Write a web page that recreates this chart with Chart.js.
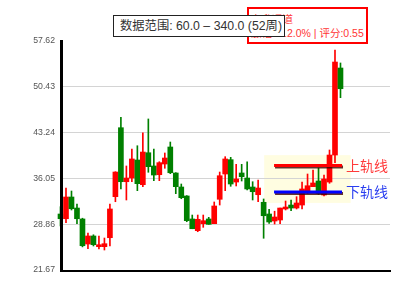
<!DOCTYPE html>
<html>
<head>
<meta charset="utf-8">
<script src="https://cdn.jsdelivr.net/npm/chart.js@4.4.1/dist/chart.umd.min.js"></script>
<style>
body { margin: 0; background: #fff; }
#wrap { position: relative; width: 400px; height: 300px; }
#scoreBox {
    position: absolute; left: 247px; top: 7px; width: 121px; height: 37px;
    box-sizing: border-box; border: 2px solid #f00; background: #fff;
    color: #ff3535; font: 10.5px "Liberation Sans", "Noto Sans CJK SC", sans-serif;
    line-height: 14px; padding: 3px 0 0 2px; white-space: nowrap;
}
#rangeBox {
    position: absolute; left: 113px; top: 15px; width: 172px; height: 22px;
    box-sizing: border-box; border: 1px solid #222; background: #fff;
    color: #333; font: 12.3px "Liberation Sans", "Noto Sans CJK SC", sans-serif;
    line-height: 20px; padding-left: 6px; white-space: nowrap;
}
</style>
</head>
<body>
<div id="wrap">
    <canvas id="myChart" width="400" height="300"></canvas>
    <div id="scoreBox">上升通道<br>涨幅:+12.0% | 评分:0.55</div>
    <div id="rangeBox">数据范围: 60.0 – 340.0 (52周)</div>
</div>
<script>
// weekly candles
const opens  = [30.46, 29.72, 33.13, 31.40, 29.68, 25.75, 27.01, 25.33, 25.33, 26.74,
                33.18, 44.01, 35.53, 36.11, 38.94, 35.06, 40.08, 38.00, 36.63, 38.31,
                40.98, 36.90, 34.70, 33.29, 29.68, 27.84, 28.94, 29.68, 28.94, 32.77,
                36.74, 38.99, 35.48, 36.90, 36.11, 34.70, 33.49, 32.30, 30.46, 29.36,
                29.52, 31.25, 31.87, 31.40, 31.87, 33.81, 34.75, 35.64, 33.44, 35.48,
                39.72, 53.38];
const closes = [29.72, 33.13, 31.29, 29.72, 25.48, 27.01, 25.64, 25.64, 25.80, 31.25,
                37.05, 35.53, 36.11, 39.10, 35.22, 40.19, 37.89, 36.58, 38.52, 39.25,
                36.94, 34.75, 33.02, 29.41, 28.15, 29.63, 29.41, 28.84, 31.72, 36.47,
                39.10, 35.17, 35.96, 36.32, 34.39, 33.96, 34.54, 30.19, 29.21, 29.99,
                31.40, 31.56, 31.40, 32.19, 34.39, 34.90, 35.33, 33.71, 35.96, 39.72,
                54.32, 50.13];
const highs  = [31.61, 34.54, 34.07, 32.03, 29.80, 27.48, 27.20, 27.01, 26.69, 32.03,
                37.10, 45.64, 38.00, 40.67, 41.18, 43.22, 45.38, 40.67, 38.67, 40.04,
                41.76, 36.95, 35.17, 33.35, 30.30, 30.30, 30.30, 29.94, 32.35, 37.05,
                39.46, 39.36, 38.26, 38.26, 38.67, 35.53, 35.80, 32.82, 31.20, 30.90,
                31.40, 32.50, 32.66, 33.18, 35.48, 36.74, 37.37, 37.68, 36.58, 40.51,
                56.21, 54.17];
const lows   = [28.58, 29.10, 31.09, 28.94, 25.30, 25.01, 25.44, 24.97, 24.81, 25.44,
                32.39, 34.39, 32.66, 35.53, 34.12, 34.75, 37.01, 35.69, 35.69, 37.64,
                36.79, 33.65, 32.86, 29.25, 28.15, 27.68, 28.37, 28.84, 28.94, 31.87,
                34.12, 34.81, 34.86, 35.64, 34.23, 32.66, 32.39, 26.65, 29.00, 28.89,
                28.94, 31.09, 30.98, 31.25, 31.25, 33.71, 34.75, 33.55, 33.29, 35.28,
                38.50, 48.72];
const yTicks = [21.67, 28.86, 36.05, 43.24, 50.43, 57.62];

// channel rails and the highlighted band (data units)
const railX = [38.9, 51.28];
const upperRail = 38.08;
const lowerRail = 33.92;
const bandX = [37.1, 52.85];
const bandY = [32.2, 39.7];

const UP = '#ff0000';
const DOWN = '#008000';
const colors = opens.map((o, i) => closes[i] >= o ? UP : DOWN);

const bodies = opens.map((o, i) => ({ x: i, y: [o, closes[i]] }));
const wicks = opens.map((o, i) => ({ x: i, y: [lows[i], highs[i]] }));

const overlay = {
    id: 'overlay',
    beforeDraw(chart) {
        const { ctx, scales: { x, y } } = chart;
        const x0 = x.getPixelForValue(bandX[0]), x1 = x.getPixelForValue(bandX[1]);
        const y0 = y.getPixelForValue(bandY[1]), y1 = y.getPixelForValue(bandY[0]);
        ctx.save();
        ctx.fillStyle = '#fffde1';
        ctx.fillRect(x0, y0, x1 - x0, y1 - y0);
        ctx.restore();
    },
    afterDatasetsDraw(chart) {
        const { ctx, chartArea, scales: { x, y } } = chart;
        const xa = x.getPixelForValue(railX[0]), xb = x.getPixelForValue(railX[1]);
        ctx.save();
        ctx.lineWidth = 3;
        ctx.shadowColor = 'rgba(60,0,0,0.8)';
        ctx.shadowOffsetX = 1;
        ctx.shadowOffsetY = 1.5;
        ctx.shadowBlur = 0;
        [[upperRail, '#ff0000'], [lowerRail, '#0000ff']].forEach(([v, c]) => {
            const py = y.getPixelForValue(v);
            ctx.strokeStyle = c;
            ctx.beginPath();
            ctx.moveTo(xa, py);
            ctx.lineTo(xb, py);
            ctx.stroke();
        });
        ctx.shadowColor = 'transparent';
        ctx.font = '14px "Noto Sans CJK SC", sans-serif';
        ctx.textBaseline = 'middle';
        ctx.fillStyle = '#ff3a3a';
        ctx.fillText('上轨线', xb + 4, y.getPixelForValue(upperRail));
        ctx.fillStyle = '#2a3ef0';
        ctx.fillText('下轨线', xb + 4, y.getPixelForValue(lowerRail));

        // axis lines
        ctx.fillStyle = '#000';
        ctx.fillRect(chartArea.left - 1, chartArea.top - 1, 3, chartArea.bottom - chartArea.top + 2);
        ctx.fillRect(chartArea.left - 1, chartArea.bottom, chartArea.right - chartArea.left + 2, 2);
        ctx.restore();
    }
};

Chart.defaults.font.family = '"Liberation Sans", "Noto Sans CJK SC", sans-serif';

new Chart(document.getElementById('myChart'), {
    type: 'bar',
    data: {
        datasets: [{
            data: bodies,
            backgroundColor: colors,
            barThickness: 5,
            grouped: false,
            clip: false
        }, {
            data: wicks,
            backgroundColor: colors,
            barThickness: 1,
            grouped: false,
            clip: false
        }]
    },
    options: {
        responsive: false,
        animation: false,
        layout: { padding: { top: 41, bottom: 30, right: 10, left: 0 } },
        plugins: { legend: { display: false }, tooltip: { enabled: false } },
        scales: {
            x: {
                type: 'linear',
                display: false,
                offset: false,
                min: 0.09,
                max: 60.02
            },
            y: {
                min: 21.67,
                max: 57.62,
                afterBuildTicks: (s) => { s.ticks = yTicks.map(v => ({ value: v })); },
                afterFit: (s) => { s.width = 61; },
                border: { display: false },
                grid: {
                    drawTicks: false,
                    color: (c) => (c.tick && c.tick.value === 57.62) ? 'rgba(0,0,0,0)' : '#d4d4d4'
                },
                ticks: {
                    padding: 6,
                    color: '#555',
                    font: { size: 8.7 },
                    callback: (v) => Number(v).toFixed(2)
                }
            }
        }
    },
    plugins: [overlay]
});
</script>
</body>
</html>
